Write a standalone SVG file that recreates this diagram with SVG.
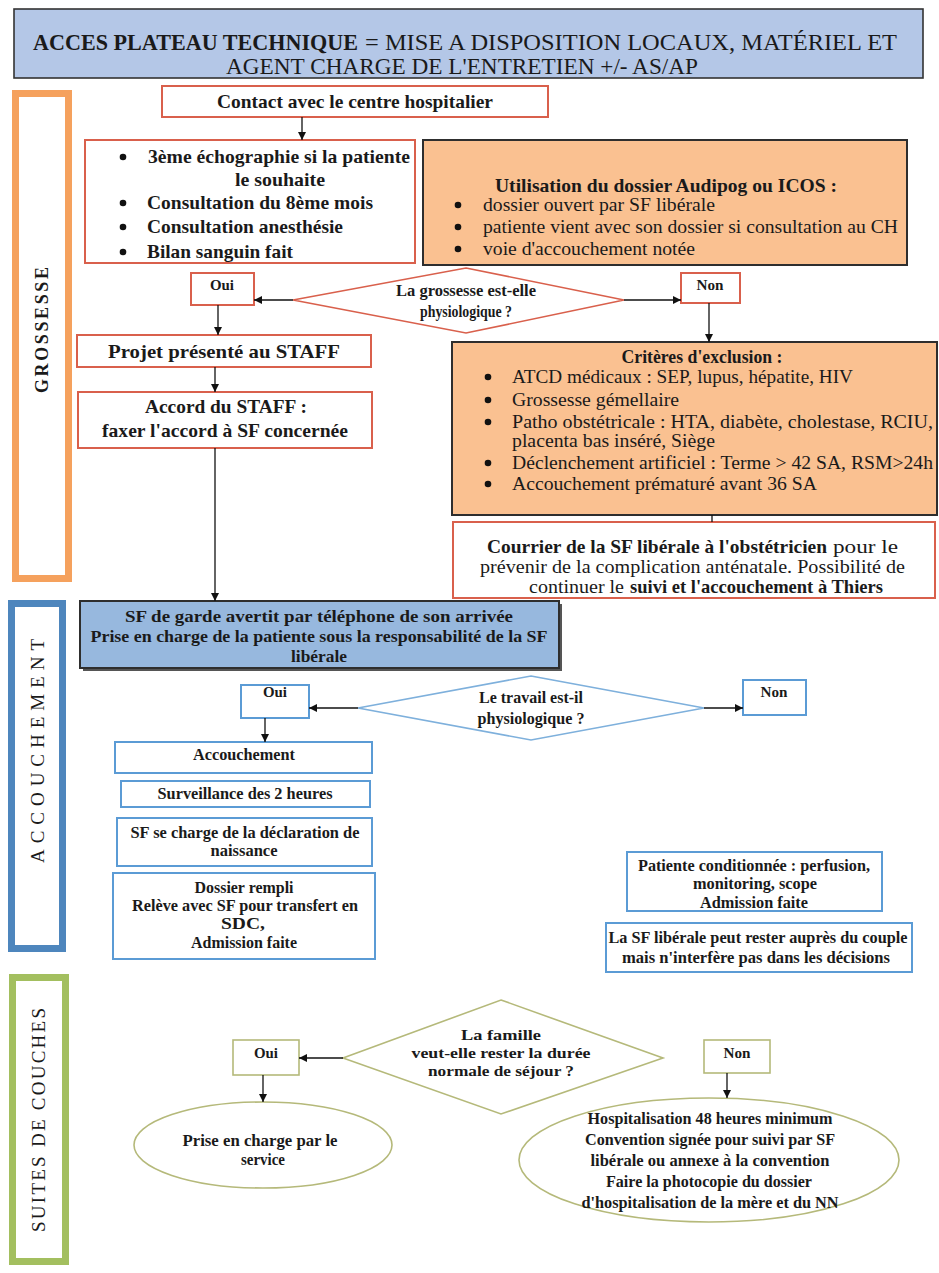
<svg xmlns="http://www.w3.org/2000/svg" width="939" height="1273" viewBox="0 0 939 1273">
<style>
.t{font-family:"Liberation Serif","Times New Roman",Times,serif;fill:#1a1a1a}
.b{font-weight:bold}
.m{text-anchor:middle}
.red{fill:#fff;stroke:#d9604c;stroke-width:2}
.peach{fill:#fac191;stroke:#2e2e2e;stroke-width:2}
.blu{fill:#fff;stroke:#5b9bd5;stroke-width:2}
.grn{fill:#fff;stroke:#b5b97a;stroke-width:1.6}
.c{fill:none;stroke:#111;stroke-width:1.3}
.dot{fill:#111}
</style>
<defs>
<marker id="ah" viewBox="0 0 10 10" refX="10" refY="5" markerWidth="8" markerHeight="8" markerUnits="userSpaceOnUse" orient="auto"><path d="M0,0 L10,5 L0,10 z" fill="#111"/></marker>
</defs>
<rect width="939" height="1273" fill="#fff"/>

<g id="header">
<rect x="14" y="9" width="909" height="69" fill="#b4c7e7" stroke="#333" stroke-width="1.6"/>
<text class="t b" x="33" y="50" font-size="23" textLength="325" lengthAdjust="spacingAndGlyphs">ACCES PLATEAU TECHNIQUE</text>
<text class="t" x="365" y="50" font-size="23" textLength="532" lengthAdjust="spacingAndGlyphs">= MISE A DISPOSITION LOCAUX, MATÉRIEL ET</text>
<text class="t" x="226" y="74" font-size="23" textLength="472" lengthAdjust="spacingAndGlyphs">AGENT CHARGE DE L'ENTRETIEN +/- AS/AP</text>
</g>

<g id="lane-grossesse">
<rect x="15.5" y="93.5" width="53" height="485" fill="#fff" stroke="#f5a15d" stroke-width="7"/>
<text class="t b m" transform="translate(48,330) rotate(-90)" font-size="18" textLength="126" lengthAdjust="spacing">GROSSESSE</text>
</g>
<g id="lane-accouchement">
<rect x="11.5" y="603.5" width="51" height="345" fill="#fff" stroke="#4e86bd" stroke-width="7"/>
<text class="t m" transform="translate(44,751) rotate(-90)" font-size="19" textLength="224" lengthAdjust="spacing">ACCOUCHEMENT</text>
</g>
<g id="lane-suites">
<rect x="12.5" y="977.5" width="53" height="284" fill="#fff" stroke="#a3bf5f" stroke-width="7"/>
<text class="t m" transform="translate(45,1120) rotate(-90)" font-size="19" textLength="224" lengthAdjust="spacing">SUITES DE COUCHES</text>
</g>

<g id="contact">
<rect class="red" x="162" y="86" width="386" height="31"/>
<text class="t b" x="217" y="108" font-size="19" textLength="276" lengthAdjust="spacingAndGlyphs">Contact avec le centre hospitalier</text>
</g>

<g id="examens">
<rect class="red" x="85" y="140" width="330" height="123"/>
<circle class="dot" cx="123" cy="157" r="3.3"/>
<circle class="dot" cx="123" cy="203" r="3.3"/>
<circle class="dot" cx="123" cy="227" r="3.3"/>
<circle class="dot" cx="123" cy="252" r="3.3"/>
<text class="t b" x="148" y="163" font-size="19.5" textLength="262" lengthAdjust="spacingAndGlyphs">3ème échographie si la patiente</text>
<text class="t b m" x="280" y="186" font-size="19.5" textLength="90" lengthAdjust="spacingAndGlyphs">le souhaite</text>
<text class="t b" x="147" y="209" font-size="19.5" textLength="226" lengthAdjust="spacingAndGlyphs">Consultation du 8ème mois</text>
<text class="t b" x="147" y="233" font-size="19.5" textLength="196" lengthAdjust="spacingAndGlyphs">Consultation anesthésie</text>
<text class="t b" x="147" y="258" font-size="19.5" textLength="146" lengthAdjust="spacingAndGlyphs">Bilan sanguin fait</text>
</g>

<g id="audipog">
<rect class="peach" x="423" y="140" width="484" height="125"/>
<text class="t b" x="495" y="192" font-size="19" textLength="342" lengthAdjust="spacingAndGlyphs">Utilisation du dossier Audipog ou ICOS :</text>
<circle class="dot" cx="458" cy="205" r="3.3"/>
<circle class="dot" cx="458" cy="227" r="3.3"/>
<circle class="dot" cx="458" cy="249" r="3.3"/>
<text class="t" x="483" y="211" font-size="19" textLength="232" lengthAdjust="spacingAndGlyphs">dossier ouvert par SF libérale</text>
<text class="t" x="483" y="233" font-size="19" textLength="415" lengthAdjust="spacingAndGlyphs">patiente vient avec son dossier si consultation au CH</text>
<text class="t" x="483" y="255" font-size="19" textLength="212" lengthAdjust="spacingAndGlyphs">voie d'accouchement notée</text>
</g>

<g id="decision-grossesse">
<polygon points="466,268 624,300 466,333 293,300" fill="#fff" stroke="#d9604c" stroke-width="1.6"/>
<text class="t b m" x="466" y="296" font-size="16" textLength="140" lengthAdjust="spacingAndGlyphs">La grossesse est-elle</text>
<text class="t b m" x="466" y="317" font-size="16" textLength="92" lengthAdjust="spacingAndGlyphs">physiologique ?</text>
</g>
<g id="oui-1">
<rect class="red" x="191" y="273" width="63" height="32"/>
<text class="t b m" x="222" y="290" font-size="15" textLength="24" lengthAdjust="spacingAndGlyphs">Oui</text>
</g>
<g id="non-1">
<rect class="red" x="681" y="273" width="59" height="30"/>
<text class="t b m" x="710" y="290" font-size="15" textLength="27" lengthAdjust="spacingAndGlyphs">Non</text>
</g>

<g id="projet">
<rect class="red" x="77" y="335" width="294" height="32"/>
<text class="t b m" x="224" y="358" font-size="19.5" textLength="232" lengthAdjust="spacingAndGlyphs">Projet présenté au STAFF</text>
</g>
<g id="accord">
<rect class="red" x="78" y="392" width="294" height="56"/>
<text class="t b m" x="226" y="413" font-size="19.5" textLength="162" lengthAdjust="spacingAndGlyphs">Accord du STAFF :</text>
<text class="t b m" x="225" y="437" font-size="19.5" textLength="246" lengthAdjust="spacingAndGlyphs">faxer l'accord à SF concernée</text>
</g>

<g id="criteres">
<rect class="peach" x="452" y="342" width="485" height="173"/>
<text class="t b m" x="702" y="363" font-size="19" textLength="161" lengthAdjust="spacingAndGlyphs">Critères d'exclusion :</text>
<circle class="dot" cx="488" cy="377" r="3.3"/>
<circle class="dot" cx="488" cy="400" r="3.3"/>
<circle class="dot" cx="488" cy="422" r="3.3"/>
<circle class="dot" cx="488" cy="463" r="3.3"/>
<circle class="dot" cx="488" cy="484" r="3.3"/>
<text class="t" x="512" y="383" font-size="19" textLength="341" lengthAdjust="spacingAndGlyphs">ATCD médicaux : SEP, lupus, hépatite, HIV</text>
<text class="t" x="512" y="406" font-size="19" textLength="167" lengthAdjust="spacingAndGlyphs">Grossesse gémellaire</text>
<text class="t" x="512" y="428" font-size="19" textLength="421" lengthAdjust="spacingAndGlyphs">Patho obstétricale : HTA, diabète, cholestase, RCIU,</text>
<text class="t" x="512" y="447" font-size="19" textLength="203" lengthAdjust="spacingAndGlyphs">placenta bas inséré, Siège</text>
<text class="t" x="512" y="469" font-size="19" textLength="421" lengthAdjust="spacingAndGlyphs">Déclenchement artificiel : Terme &gt; 42 SA, RSM&gt;24h</text>
<text class="t" x="512" y="490" font-size="19" textLength="305" lengthAdjust="spacingAndGlyphs">Accouchement prématuré avant 36 SA</text>
</g>

<g id="courrier">
<rect class="red" x="453" y="522" width="482" height="76"/>
<text class="t b" x="487" y="553" font-size="19" textLength="340" lengthAdjust="spacingAndGlyphs">Courrier de la SF libérale à l'obstétricien</text>
<text class="t" x="833" y="553" font-size="19" textLength="65" lengthAdjust="spacingAndGlyphs">pour le</text>
<text class="t" x="480" y="573" font-size="19" textLength="425" lengthAdjust="spacingAndGlyphs">prévenir de la complication anténatale. Possibilité de</text>
<text class="t" x="529" y="593" font-size="19" textLength="95" lengthAdjust="spacingAndGlyphs">continuer le</text>
<text class="t b" x="630" y="593" font-size="19" textLength="253" lengthAdjust="spacingAndGlyphs">suivi et l'accouchement à Thiers</text>
</g>

<g id="sf-garde">
<rect x="83" y="604" width="479" height="67" fill="#555"/>
<rect x="80" y="601" width="479" height="67" fill="#97b8de" stroke="#2e2e2e" stroke-width="2"/>
<text class="t b m" x="319" y="622" font-size="17" textLength="388" lengthAdjust="spacingAndGlyphs">SF de garde avertit par téléphone de son arrivée</text>
<text class="t b m" x="319" y="642" font-size="17" textLength="457" lengthAdjust="spacingAndGlyphs">Prise en charge de la patiente sous la responsabilité de la SF</text>
<text class="t b m" x="319" y="662" font-size="17" textLength="56" lengthAdjust="spacingAndGlyphs">libérale</text>
</g>

<g id="decision-travail">
<polygon points="531,676 704,708 531,740 358,708" fill="#fff" stroke="#7eb0dc" stroke-width="1.6"/>
<text class="t b m" x="531" y="703" font-size="16" textLength="104" lengthAdjust="spacingAndGlyphs">Le travail est-il</text>
<text class="t b m" x="531" y="724" font-size="16" textLength="107" lengthAdjust="spacingAndGlyphs">physiologique ?</text>
</g>
<g id="oui-2">
<rect class="blu" x="241" y="685" width="68" height="33"/>
<text class="t b m" x="275" y="697" font-size="15" textLength="24" lengthAdjust="spacingAndGlyphs">Oui</text>
</g>
<g id="non-2">
<rect class="blu" x="743" y="680" width="63" height="35"/>
<text class="t b m" x="774" y="697" font-size="15" textLength="27" lengthAdjust="spacingAndGlyphs">Non</text>
</g>

<g id="accouchement">
<rect class="blu" x="115" y="742" width="257" height="31"/>
<text class="t b m" x="244" y="760" font-size="17" textLength="102" lengthAdjust="spacingAndGlyphs">Accouchement</text>
</g>
<g id="surveillance">
<rect class="blu" x="121" y="781" width="249" height="26"/>
<text class="t b m" x="245" y="799" font-size="17" textLength="175" lengthAdjust="spacingAndGlyphs">Surveillance des 2 heures</text>
</g>
<g id="declaration">
<rect class="blu" x="117" y="818" width="255" height="48"/>
<text class="t b m" x="245" y="838" font-size="17" textLength="229" lengthAdjust="spacingAndGlyphs">SF se charge de la déclaration de</text>
<text class="t b m" x="244" y="856" font-size="17" textLength="67" lengthAdjust="spacingAndGlyphs">naissance</text>
</g>
<g id="dossier">
<rect class="blu" x="113" y="873" width="262" height="86"/>
<text class="t b m" x="244" y="893" font-size="17" textLength="99" lengthAdjust="spacingAndGlyphs">Dossier rempli</text>
<text class="t b m" x="245" y="911" font-size="17" textLength="226" lengthAdjust="spacingAndGlyphs">Relève avec SF pour transfert en</text>
<text class="t b m" x="243" y="929" font-size="17" textLength="44" lengthAdjust="spacingAndGlyphs">SDC,</text>
<text class="t b m" x="244" y="948" font-size="17" textLength="106" lengthAdjust="spacingAndGlyphs">Admission faite</text>
</g>

<g id="patiente">
<rect class="blu" x="627" y="852" width="255" height="59"/>
<text class="t b m" x="754" y="871" font-size="16" textLength="232" lengthAdjust="spacingAndGlyphs">Patiente conditionnée : perfusion,</text>
<text class="t b m" x="755" y="889" font-size="16" textLength="124" lengthAdjust="spacingAndGlyphs">monitoring, scope</text>
<text class="t b m" x="754" y="908" font-size="16" textLength="108" lengthAdjust="spacingAndGlyphs">Admission faite</text>
</g>
<g id="sf-liberale">
<rect class="blu" x="606" y="923" width="306" height="49"/>
<text class="t b m" x="758" y="943" font-size="16" textLength="299" lengthAdjust="spacingAndGlyphs">La SF libérale peut rester auprès du couple</text>
<text class="t b m" x="756" y="963" font-size="16" textLength="268" lengthAdjust="spacingAndGlyphs">mais n'interfère pas dans les décisions</text>
</g>

<g id="decision-sejour">
<polygon points="501,1000 663,1058 501,1114 343,1058" fill="#fff" stroke="#b5b97a" stroke-width="1.6"/>
<text class="t b m" x="501" y="1040" font-size="15.5" textLength="80" lengthAdjust="spacingAndGlyphs">La famille</text>
<text class="t b m" x="501" y="1058" font-size="15.5" textLength="179" lengthAdjust="spacingAndGlyphs">veut-elle rester la durée</text>
<text class="t b m" x="501" y="1076" font-size="15.5" textLength="146" lengthAdjust="spacingAndGlyphs">normale de séjour ?</text>
</g>
<g id="oui-3">
<rect class="grn" x="233" y="1040" width="66" height="35"/>
<text class="t b m" x="266" y="1058" font-size="15" textLength="24" lengthAdjust="spacingAndGlyphs">Oui</text>
</g>
<g id="non-3">
<rect class="grn" x="704" y="1040" width="66" height="33"/>
<text class="t b m" x="737" y="1058" font-size="15" textLength="27" lengthAdjust="spacingAndGlyphs">Non</text>
</g>
<g id="prise-en-charge">
<ellipse class="grn" cx="263" cy="1145" rx="129" ry="43"/>
<text class="t b m" x="260" y="1146" font-size="16" textLength="155" lengthAdjust="spacingAndGlyphs">Prise en charge par le</text>
<text class="t b m" x="263" y="1165" font-size="16" textLength="44" lengthAdjust="spacingAndGlyphs">service</text>
</g>
<g id="hospitalisation">
<ellipse class="grn" cx="709" cy="1160" rx="190" ry="62"/>
<text class="t b m" x="710" y="1124" font-size="16" textLength="245" lengthAdjust="spacingAndGlyphs">Hospitalisation 48 heures minimum</text>
<text class="t b m" x="710" y="1145" font-size="16" textLength="250" lengthAdjust="spacingAndGlyphs">Convention signée pour suivi par SF</text>
<text class="t b m" x="710" y="1166" font-size="16" textLength="239" lengthAdjust="spacingAndGlyphs">libérale ou annexe à la convention</text>
<text class="t b m" x="709" y="1187" font-size="16" textLength="206" lengthAdjust="spacingAndGlyphs">Faire la photocopie du dossier</text>
<text class="t b m" x="710" y="1208" font-size="16" textLength="257" lengthAdjust="spacingAndGlyphs">d'hospitalisation de la mère et du NN</text>
</g>

<g id="connectors">
<path class="c" d="M302,117 V140" marker-end="url(#ah)"/>
<path class="c" d="M293,300 H254" marker-end="url(#ah)"/>
<path class="c" d="M624,300 H681" marker-end="url(#ah)"/>
<path class="c" d="M218,305 V335" marker-end="url(#ah)"/>
<path class="c" d="M709,303 V342" marker-end="url(#ah)"/>
<path class="c" d="M215,367 V392" marker-end="url(#ah)"/>
<path class="c" d="M215,448 V601" marker-end="url(#ah)"/>
<path class="c" d="M712,515 V522"/>
<path class="c" d="M358,708 H309" marker-end="url(#ah)"/>
<path class="c" d="M704,708 H743" marker-end="url(#ah)"/>
<path class="c" d="M265,718 V742" marker-end="url(#ah)"/>
<path class="c" d="M343,1058 H299" marker-end="url(#ah)"/>
<path class="c" d="M263,1075 V1102" marker-end="url(#ah)"/>
<path class="c" d="M727,1073 V1098" marker-end="url(#ah)"/>
</g>
</svg>
